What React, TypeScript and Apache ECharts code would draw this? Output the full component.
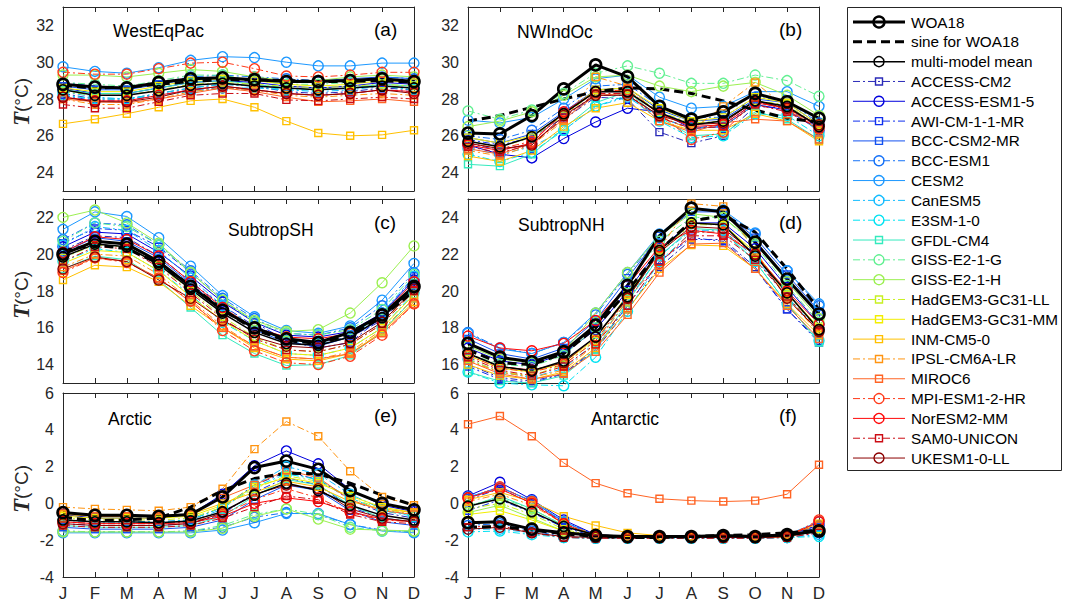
import React, { useEffect, useRef } from "react";
import * as echarts from "echarts";

const MONTHS = ["J", "F", "M", "A", "M", "J", "J", "A", "S", "O", "N", "D"];

const MODEL_NAMES = [
  "ACCESS-CM2", "ACCESS-ESM1-5", "AWI-CM-1-1-MR", "BCC-CSM2-MR", "BCC-ESM1", "CESM2",
  "CanESM5", "E3SM-1-0", "GFDL-CM4", "GISS-E2-1-G", "GISS-E2-1-H", "HadGEM3-GC31-LL",
  "HadGEM3-GC31-MM", "INM-CM5-0", "IPSL-CM6A-LR", "MIROC6", "MPI-ESM1-2-HR", "NorESM2-MM",
  "SAM0-UNICON", "UKESM1-0-LL",
];
const MODEL_COLORS = [
  "#2a2ab8", "#0000dd", "#1030ee", "#1452f0", "#1672f8", "#1c98ff", "#12bcff", "#00e2f2",
  "#34eabe", "#62f092", "#9cf052", "#c8f020", "#f2ee00", "#ffc000", "#ff9410", "#ff6424",
  "#ff3a1a", "#ff0808", "#cc0c14", "#8c0000",
];
const MODEL_DASHED = [true, false, true, false, true, false, true, true, false, true, false, true, false, false, true, false, true, false, true, false];
const MODEL_SQUARE = [true, false, true, true, false, false, false, false, true, false, false, true, true, true, true, true, false, false, true, false];

const PANEL_NAMES = ["WestEqPac", "NWIndOc", "SubtropSH", "SubtropNH", "Arctic", "Antarctic"];
const PANEL_TAGS = ["(a)", "(b)", "(c)", "(d)", "(e)", "(f)"];
const Y_MIN = [23, 23, 13, 15, -4, -4];
const Y_MAX = [33, 33, 23, 25, 6, 6];
const Y_TICKS = [
  [24, 26, 28, 30, 32],
  [24, 26, 28, 30, 32],
  [14, 16, 18, 20, 22],
  [16, 18, 20, 22, 24],
  [-4, -2, 0, 2, 4, 6],
  [-4, -2, 0, 2, 4, 6],
];

// ---------- (a) WestEqPac ----------
const WESTEQPAC_MODELS = [
  [28.3, 28.0, 28.0, 28.3, 28.6, 28.8, 28.7, 28.4, 28.3, 28.4, 28.6, 28.5],
  [28.6, 28.3, 28.3, 28.6, 28.9, 29.0, 28.9, 28.7, 28.6, 28.7, 28.9, 28.8],
  [28.2, 27.9, 27.9, 28.2, 28.5, 28.6, 28.5, 28.3, 28.2, 28.3, 28.5, 28.4],
  [28.7, 28.5, 28.5, 28.8, 29.1, 29.1, 29.0, 29.0, 29.0, 29.1, 29.2, 29.1],
  [28.9, 28.7, 28.6, 28.9, 29.2, 29.3, 29.2, 29.1, 29.0, 29.0, 29.2, 29.1],
  [29.75, 29.5, 29.4, 29.7, 30.1, 30.3, 30.25, 30.0, 29.8, 29.8, 29.95, 29.95],
  [28.4, 28.1, 28.0, 28.2, 28.4, 28.6, 28.6, 28.5, 28.4, 28.5, 28.7, 28.6],
  [28.2, 28.0, 28.0, 28.3, 28.6, 28.8, 28.7, 28.5, 28.5, 28.6, 28.7, 28.5],
  [28.5, 28.3, 28.3, 28.6, 28.9, 29.0, 28.8, 28.6, 28.5, 28.6, 28.8, 28.7],
  [28.9, 28.8, 28.7, 29.0, 29.3, 29.3, 29.0, 28.8, 28.8, 28.9, 29.1, 29.0],
  [29.3, 29.3, 29.2, 29.4, 29.6, 29.5, 29.2, 29.0, 29.0, 29.2, 29.3, 29.2],
  [28.4, 28.2, 28.2, 28.5, 28.8, 28.9, 28.8, 28.7, 28.6, 28.7, 28.8, 28.7],
  [28.6, 28.4, 28.4, 28.7, 29.0, 29.1, 29.0, 28.8, 28.7, 28.8, 29.0, 28.9],
  [26.65, 26.9, 27.2, 27.55, 27.9, 28.0, 27.55, 26.8, 26.15, 26.0, 26.05, 26.3],
  [28.0, 27.7, 27.7, 28.0, 28.4, 28.6, 28.5, 28.2, 28.1, 28.2, 28.3, 28.2],
  [28.0, 27.85, 27.8, 28.0, 28.3, 28.6, 28.4, 28.1, 27.85, 27.9, 28.0, 27.85],
  [29.45, 29.35, 29.35, 29.65, 29.95, 30.0, 29.65, 29.25, 29.2, 29.3, 29.45, 29.45],
  [28.1, 27.9, 27.9, 28.2, 28.5, 28.7, 28.5, 28.3, 28.2, 28.3, 28.5, 28.4],
  [27.7, 27.5, 27.5, 27.85, 28.2, 28.3, 28.3, 27.95, 27.9, 28.0, 28.1, 28.0],
  [28.1, 27.85, 27.85, 28.1, 28.5, 28.7, 28.5, 28.3, 28.2, 28.3, 28.5, 28.3],
];
const WESTEQPAC_WOA = [28.8, 28.65, 28.6, 28.9, 29.1, 29.15, 29.05, 28.95, 28.95, 29.0, 29.1, 28.95];
const WESTEQPAC_SINE = [28.75, 28.6, 28.65, 28.8, 28.95, 29.05, 29.05, 29.0, 28.95, 28.95, 29.0, 28.9];
const WESTEQPAC_MEAN = [28.5, 28.2, 28.2, 28.45, 28.75, 28.85, 28.7, 28.6, 28.5, 28.6, 28.7, 28.6];

// ---------- (b) NWIndOc ----------
const NWINDOC_MODELS = [
  [25.6, 25.2, 25.6, 26.9, 28.1, 28.0, 26.2, 25.6, 26.0, 27.6, 27.5, 26.3],
  [25.5, 25.0, 24.8, 25.85, 26.75, 27.5, 27.3, 26.4, 26.5, 27.7, 27.4, 26.3],
  [25.8, 25.5, 25.9, 27.0, 28.2, 28.2, 27.0, 26.4, 26.6, 27.8, 27.6, 26.4],
  [25.9, 25.6, 26.1, 27.3, 28.5, 28.6, 27.4, 26.8, 26.9, 28.0, 27.8, 26.6],
  [26.0, 25.8, 26.3, 27.5, 28.7, 28.8, 27.6, 27.0, 27.0, 28.1, 27.9, 26.7],
  [26.85, 26.7, 27.0, 28.0, 29.1, 29.3, 28.1, 27.5, 27.6, 28.4, 28.4, 27.6],
  [25.3, 25.0, 25.4, 26.3, 27.6, 28.1, 27.0, 26.4, 26.5, 27.7, 27.6, 26.2],
  [25.0, 24.6, 25.1, 26.3, 27.6, 28.2, 26.8, 25.9, 26.0, 27.2, 27.1, 26.0],
  [24.45, 24.35, 25.0, 26.4, 27.8, 28.4, 27.0, 26.0, 26.1, 27.3, 26.9, 25.8],
  [27.35, 26.9, 27.4, 28.3, 29.4, 29.8, 29.4, 28.85, 28.85, 29.3, 29.0, 28.15],
  [26.5, 26.8, 27.3, 28.2, 29.2, 29.3, 28.7, 28.4, 28.7, 28.9, 28.2, 27.1],
  [25.7, 25.4, 25.9, 27.1, 28.4, 28.5, 27.3, 26.7, 26.8, 27.9, 27.7, 26.5],
  [25.9, 25.6, 26.0, 27.2, 28.5, 28.6, 27.5, 26.8, 27.0, 28.1, 27.8, 26.6],
  [24.9, 24.6, 25.2, 26.5, 27.5, 27.8, 26.8, 26.3, 26.3, 27.2, 26.8, 25.7],
  [25.2, 24.9, 25.5, 26.8, 29.2, 28.7, 27.1, 26.3, 27.6, 28.9, 27.5, 26.3],
  [25.3, 25.0, 25.6, 26.9, 28.2, 28.3, 26.8, 26.2, 26.7, 26.9, 26.8, 25.8],
  [25.6, 25.3, 25.7, 27.2, 28.4, 28.5, 27.2, 25.8, 26.2, 27.9, 27.4, 26.4],
  [25.5, 25.2, 25.6, 27.3, 28.4, 28.4, 27.2, 26.5, 26.6, 27.8, 27.5, 26.5],
  [25.4, 25.1, 25.5, 27.0, 28.3, 28.3, 27.0, 26.4, 26.5, 27.7, 27.3, 26.4],
  [25.6, 25.3, 25.5, 27.1, 28.2, 28.2, 27.1, 26.6, 26.7, 27.9, 27.5, 26.6],
];
const NWINDOC_WOA = [26.15, 26.1, 27.1, 28.55, 29.85, 29.2, 27.6, 26.9, 27.3, 28.3, 27.85, 26.95];
const NWINDOC_SINE = [26.8, 27.1, 27.55, 28.0, 28.4, 28.6, 28.55, 28.3, 27.9, 27.4, 26.95, 26.75];
const NWINDOC_MEAN = [25.7, 25.4, 25.95, 27.2, 28.4, 28.4, 27.25, 26.6, 26.8, 27.9, 27.6, 26.5];

// ---------- (c) SubtropSH ----------
const SUBTROPSH_MODELS = [
  [20.2, 21.0, 20.9, 19.9, 18.5, 17.2, 16.1, 15.4, 15.2, 15.5, 16.4, 18.2],
  [20.4, 21.2, 21.1, 20.1, 18.8, 17.4, 16.3, 15.6, 15.5, 15.8, 16.8, 18.6],
  [20.6, 21.4, 21.3, 20.4, 19.0, 17.5, 16.3, 15.3, 14.9, 15.2, 16.6, 18.8],
  [20.1, 20.9, 20.7, 19.8, 18.4, 17.0, 15.9, 15.2, 15.0, 15.5, 16.5, 18.3],
  [20.8, 21.7, 21.6, 20.5, 19.1, 17.6, 16.5, 15.7, 15.6, 16.0, 17.2, 19.0],
  [21.35, 22.3, 22.05, 20.9, 19.35, 17.75, 16.6, 15.85, 15.7, 16.1, 17.5, 19.5],
  [20.5, 21.5, 21.3, 20.2, 18.7, 17.2, 16.0, 15.3, 15.1, 15.5, 16.8, 18.8],
  [19.6, 20.3, 20.1, 19.1, 17.8, 16.3, 15.3, 14.6, 14.5, 14.9, 16.0, 17.9],
  [19.2, 19.9, 19.7, 18.6, 17.1, 15.6, 14.6, 13.95, 14.0, 14.5, 15.8, 17.6],
  [20.7, 21.7, 21.5, 20.5, 19.0, 17.5, 16.3, 15.7, 15.6, 15.9, 17.0, 18.9],
  [22.0, 22.4, 21.7, 20.6, 19.0, 17.5, 16.4, 15.8, 15.9, 16.8, 18.45, 20.45],
  [19.8, 20.5, 20.4, 19.4, 18.0, 16.6, 15.5, 14.8, 14.7, 15.1, 16.2, 18.0],
  [19.5, 20.2, 20.1, 19.1, 17.7, 16.4, 15.3, 14.6, 14.5, 14.9, 16.0, 17.8],
  [18.6, 19.4, 19.3, 18.5, 17.2, 16.0, 14.9, 14.3, 14.2, 14.6, 15.8, 17.4],
  [19.3, 20.0, 19.9, 18.9, 17.5, 16.1, 15.0, 14.4, 14.3, 14.7, 15.9, 17.6],
  [19.1, 19.8, 19.6, 18.7, 17.4, 16.0, 15.0, 14.4, 14.3, 14.6, 15.7, 17.3],
  [19.0, 19.8, 19.55, 18.7, 17.45, 15.85, 14.75, 14.1, 14.0, 14.45, 15.6, 17.3],
  [20.1, 20.95, 20.8, 19.9, 18.5, 17.1, 16.0, 15.5, 15.4, 15.7, 16.7, 18.5],
  [19.6, 20.4, 20.3, 19.3, 17.9, 16.5, 15.4, 14.8, 14.7, 15.1, 16.2, 18.0],
  [19.2, 19.85, 19.6, 18.6, 17.6, 16.4, 15.5, 15.0, 14.9, 15.2, 16.3, 18.1],
];
const SUBTROPSH_WOA = [20.0, 20.7, 20.55, 19.6, 18.25, 16.95, 16.0, 15.4, 15.2, 15.75, 16.7, 18.25];
const SUBTROPSH_SINE = [20.2, 20.5, 20.3, 19.5, 18.3, 17.0, 15.9, 15.3, 15.15, 15.6, 16.6, 18.0];
const SUBTROPSH_MEAN = [19.85, 20.55, 20.4, 19.45, 18.1, 16.8, 15.75, 15.15, 15.05, 15.5, 16.55, 18.2];

// ---------- (d) SubtropNH ----------
const SUBTROPNH_MODELS = [
  [16.0, 15.3, 15.1, 15.5, 16.8, 19.0, 21.3, 22.8, 22.8, 21.3, 19.0, 17.3],
  [16.9, 16.2, 16.0, 16.6, 17.9, 20.0, 22.3, 23.7, 23.7, 22.3, 20.2, 18.2],
  [15.9, 15.2, 15.0, 15.5, 16.9, 19.2, 21.6, 22.9, 22.7, 21.2, 19.0, 17.2],
  [17.4, 16.6, 16.3, 16.9, 18.4, 20.7, 23.0, 24.3, 24.3, 22.9, 20.9, 18.9],
  [17.75, 16.9, 16.6, 17.2, 18.7, 20.9, 23.0, 24.5, 24.3, 23.1, 21.1, 19.2],
  [17.7, 16.85, 16.6, 17.2, 18.8, 21.0, 23.1, 24.5, 24.4, 23.15, 21.1, 19.3],
  [16.3, 15.6, 15.3, 15.8, 17.2, 19.5, 21.9, 23.3, 23.3, 21.8, 19.7, 17.8],
  [15.6, 15.0, 14.9, 14.85, 16.4, 18.9, 21.6, 23.2, 23.2, 21.6, 19.3, 17.3],
  [15.6, 15.1, 15.0, 15.4, 16.8, 19.4, 21.9, 23.4, 23.3, 21.6, 19.3, 17.2],
  [16.6, 16.0, 15.9, 16.5, 18.0, 20.4, 22.7, 24.0, 24.0, 22.5, 20.3, 18.3],
  [17.0, 16.3, 16.1, 16.7, 18.8, 21.0, 23.0, 24.2, 24.0, 22.6, 20.5, 18.5],
  [16.3, 15.6, 15.4, 16.0, 17.3, 19.6, 22.1, 23.6, 23.6, 22.0, 19.8, 17.9],
  [16.5, 15.8, 15.6, 16.1, 17.4, 19.8, 22.2, 23.7, 23.6, 22.1, 19.9, 18.0],
  [16.0, 15.4, 15.2, 15.6, 16.9, 19.0, 21.2, 22.5, 22.45, 21.2, 19.3, 17.6],
  [16.2, 15.6, 15.3, 15.7, 17.1, 19.5, 22.3, 24.75, 24.6, 22.2, 19.6, 17.7],
  [16.2, 15.5, 15.2, 15.5, 16.7, 18.7, 21.0, 22.55, 22.6, 21.2, 19.2, 17.4],
  [16.5, 15.8, 15.6, 16.0, 17.3, 19.6, 21.5, 23.2, 23.2, 22.0, 19.9, 17.9],
  [17.55, 16.9, 16.75, 17.15, 18.4, 20.3, 22.4, 23.3, 23.1, 22.0, 20.0, 18.2],
  [16.4, 15.7, 15.4, 15.9, 17.1, 19.2, 21.6, 23.0, 23.0, 21.7, 19.7, 17.8],
  [16.6, 15.9, 15.7, 16.1, 17.5, 19.6, 22.1, 23.5, 23.4, 22.0, 19.6, 17.8],
];
const SUBTROPNH_WOA = [17.15, 16.4, 16.15, 16.7, 18.15, 20.3, 23.0, 24.5, 24.3, 22.65, 20.65, 18.75];
const SUBTROPNH_SINE = [16.8, 16.1, 16.0, 16.6, 18.0, 20.0, 22.2, 23.8, 24.1, 23.2, 21.2, 19.0];
const SUBTROPNH_MEAN = [16.6, 15.9, 15.65, 16.2, 17.5, 19.7, 22.2, 23.7, 23.6, 21.9, 19.9, 17.9];

// ---------- (e) Arctic ----------
const ARCTIC_MODELS = [
  [-0.9, -1.0, -1.0, -1.0, -0.9, -0.2, 1.0, 1.7, 1.3, 0.2, -0.5, -0.8],
  [-0.6, -0.8, -0.8, -0.8, -0.6, 0.5, 2.05, 2.85, 2.15, 0.75, -0.1, -0.45],
  [-1.1, -1.2, -1.2, -1.2, -1.1, -0.6, 0.6, 1.4, 1.0, -0.2, -0.8, -1.0],
  [-1.3, -1.4, -1.4, -1.4, -1.3, -0.9, 0.2, 1.0, 0.7, -0.4, -1.0, -1.2],
  [-1.5, -1.55, -1.55, -1.55, -1.5, -1.3, -0.75, -0.5, -0.6, -1.15, -1.45, -1.55],
  [-1.6, -1.6, -1.6, -1.6, -1.6, -1.45, -1.05, -0.55, -0.55, -1.15, -1.5, -1.6],
  [-1.0, -1.1, -1.1, -1.1, -1.0, -0.3, 1.0, 2.0, 1.6, 0.5, -0.3, -0.7],
  [-0.9, -1.0, -1.0, -1.0, -0.9, -0.2, 0.9, 1.6, 1.3, 0.3, -0.4, -0.7],
  [-1.2, -1.3, -1.3, -1.3, -1.2, -0.7, 0.4, 1.3, 1.0, -0.1, -0.8, -1.0],
  [-1.5, -1.55, -1.55, -1.55, -1.5, -1.2, -0.6, -0.3, -0.6, -1.3, -1.5, -1.5],
  [-1.55, -1.55, -1.55, -1.55, -1.55, -1.35, -0.7, -0.3, -0.85, -1.4, -1.45, -1.5],
  [-0.8, -0.9, -0.9, -0.9, -0.8, -0.2, 0.8, 1.5, 1.2, 0.3, -0.3, -0.6],
  [-0.7, -0.8, -0.8, -0.8, -0.7, -0.1, 0.9, 1.4, 1.1, 0.4, -0.2, -0.5],
  [-0.6, -0.7, -0.7, -0.7, -0.6, 0.0, 0.6, 1.2, 0.9, 0.1, -0.3, -0.5],
  [-0.2, -0.3, -0.35, -0.4, -0.2, 0.8, 2.95, 4.45, 3.65, 1.75, 0.35, -0.1],
  [-0.5, -0.7, -0.7, -0.7, -0.6, 0.3, 1.0, 1.8, 1.4, 0.2, -0.4, -0.6],
  [-1.0, -1.1, -1.1, -1.1, -1.0, -0.6, 0.2, 0.8, 0.3, -0.5, -0.9, -1.0],
  [-1.0, -1.1, -1.1, -1.1, -1.05, -0.7, 0.0, 0.3, 0.1, -0.45, -0.85, -1.0],
  [-1.2, -1.3, -1.3, -1.3, -1.2, -0.8, -0.2, 0.4, 0.2, -0.6, -1.0, -1.1],
  [-1.1, -1.2, -1.2, -1.2, -1.1, -0.5, 0.5, 1.0, 0.8, -0.3, -0.8, -1.0],
];
const ARCTIC_WOA = [-0.5, -0.65, -0.65, -0.7, -0.6, 0.35, 1.95, 2.3, 1.85, 0.7, 0.0, -0.35];
const ARCTIC_SINE = [-0.75, -0.95, -0.9, -0.8, -0.2, 0.7, 1.35, 1.65, 1.6, 1.1, 0.45, -0.1];
const ARCTIC_MEAN = [-0.9, -1.0, -1.0, -1.05, -0.95, -0.45, 0.45, 1.1, 0.7, -0.1, -0.65, -0.9];

// ---------- (f) Antarctic ----------
const ANTARCTIC_MODELS = [
  [0.2, 0.8, 0.0, -1.0, -1.7, -1.8, -1.8, -1.8, -1.8, -1.8, -1.7, -1.2],
  [0.4, 1.15, 0.2, -0.9, -1.7, -1.8, -1.8, -1.8, -1.8, -1.8, -1.7, -1.2],
  [-0.4, 0.2, -0.5, -1.3, -1.8, -1.85, -1.85, -1.85, -1.85, -1.85, -1.8, -1.4],
  [0.3, 0.9, 0.1, -1.0, -1.75, -1.85, -1.85, -1.85, -1.85, -1.85, -1.75, -1.3],
  [-1.2, -1.1, -1.5, -1.8, -1.9, -1.9, -1.9, -1.9, -1.9, -1.9, -1.85, -1.6],
  [0.35, 0.85, 0.15, -1.0, -1.75, -1.8, -1.8, -1.8, -1.8, -1.8, -1.7, -1.0],
  [-1.4, -1.4, -1.6, -1.85, -1.9, -1.9, -1.9, -1.9, -1.9, -1.9, -1.85, -1.7],
  [-1.55, -1.5, -1.7, -1.85, -1.9, -1.9, -1.9, -1.9, -1.9, -1.9, -1.85, -1.8],
  [-0.2, 0.4, -0.3, -1.2, -1.75, -1.85, -1.85, -1.85, -1.85, -1.85, -1.8, -1.4],
  [-0.1, 0.3, -0.3, -1.2, -1.75, -1.85, -1.85, -1.85, -1.85, -1.85, -1.75, -1.5],
  [-0.5, -0.1, -0.8, -1.5, -1.8, -1.85, -1.85, -1.85, -1.85, -1.85, -1.8, -1.5],
  [-0.3, 0.0, -0.6, -1.4, -1.8, -1.85, -1.85, -1.85, -1.85, -1.85, -1.8, -1.4],
  [-0.6, -0.4, -0.9, -1.5, -1.8, -1.85, -1.85, -1.85, -1.85, -1.85, -1.8, -1.4],
  [0.2, 0.6, 0.1, -0.7, -1.2, -1.6, -1.75, -1.8, -1.8, -1.8, -1.7, -1.1],
  [0.1, 0.5, -0.1, -1.1, -1.7, -1.8, -1.8, -1.8, -1.8, -1.8, -1.7, -1.2],
  [4.3, 4.75, 3.65, 2.2, 1.1, 0.55, 0.25, 0.15, 0.1, 0.15, 0.5, 2.1],
  [0.3, 0.9, 0.1, -1.1, -1.8, -1.85, -1.85, -1.85, -1.85, -1.85, -1.8, -0.9],
  [0.3, 0.8, 0.0, -1.1, -1.8, -1.85, -1.85, -1.85, -1.85, -1.85, -1.8, -1.0],
  [-1.3, -1.2, -1.6, -1.85, -1.9, -1.9, -1.9, -1.9, -1.9, -1.9, -1.85, -1.6],
  [-1.4, -1.3, -1.6, -1.8, -1.85, -1.85, -1.85, -1.85, -1.85, -1.85, -1.8, -1.5],
];
const ANTARCTIC_WOA = [-1.05, -1.0, -1.4, -1.6, -1.75, -1.8, -1.8, -1.8, -1.75, -1.8, -1.7, -1.5];
const ANTARCTIC_SINE = [-1.3, -1.25, -1.45, -1.65, -1.8, -1.85, -1.85, -1.8, -1.75, -1.7, -1.6, -1.45];
const ANTARCTIC_MEAN = [-0.15, 0.25, -0.45, -1.25, -1.7, -1.8, -1.8, -1.8, -1.8, -1.8, -1.75, -1.45];

const PANEL_MODELS = [WESTEQPAC_MODELS, NWINDOC_MODELS, SUBTROPSH_MODELS, SUBTROPNH_MODELS, ARCTIC_MODELS, ANTARCTIC_MODELS];
const PANEL_WOA = [WESTEQPAC_WOA, NWINDOC_WOA, SUBTROPSH_WOA, SUBTROPNH_WOA, ARCTIC_WOA, ANTARCTIC_WOA];
const PANEL_SINE = [WESTEQPAC_SINE, NWINDOC_SINE, SUBTROPSH_SINE, SUBTROPNH_SINE, ARCTIC_SINE, ANTARCTIC_SINE];
const PANEL_MEAN = [WESTEQPAC_MEAN, NWINDOC_MEAN, SUBTROPSH_MEAN, SUBTROPNH_MEAN, ARCTIC_MEAN, ANTARCTIC_MEAN];

const FONT = "'Liberation Sans', Arial, Helvetica, sans-serif";
const AXIS_COLOR = "#262626";
const DASH_DOT = [7, 3, 2, 3];
const SINE_DASH = [9, 5];

function buildOption() {
  const gridLeft = [63, 468, 63, 468, 63, 468];
  const gridTop = [7, 7, 199, 199, 393, 393];
  const W = 351;
  const H = 184;

  const grids: any[] = [];
  const xAxes: any[] = [];
  const yAxes: any[] = [];
  const series: any[] = [];
  const graphics: any[] = [];

  for (let i = 0; i < 6; i++) {
    grids.push({ left: gridLeft[i], top: gridTop[i], width: W, height: H, containLabel: false });
    const tickStyle = { inside: true, length: 5, lineStyle: { color: AXIS_COLOR, width: 1 } };
    const lineStyle = { show: true, onZero: false, lineStyle: { color: AXIS_COLOR, width: 1 } };
    xAxes.push({
      gridIndex: i, type: "category", data: MONTHS, boundaryGap: false, position: "bottom",
      axisLine: lineStyle, axisTick: tickStyle, splitLine: { show: false },
      axisLabel: { show: i >= 4, fontSize: 17, color: AXIS_COLOR, margin: 8, fontFamily: FONT, interval: 0 },
    });
    xAxes.push({
      gridIndex: i, type: "category", data: MONTHS, boundaryGap: false, position: "top",
      axisLine: lineStyle, axisTick: tickStyle, splitLine: { show: false }, axisLabel: { show: false },
    });
    yAxes.push({
      gridIndex: i, type: "value", min: Y_MIN[i], max: Y_MAX[i], position: "left",
      axisLine: lineStyle, splitLine: { show: false },
      axisTick: { ...tickStyle, customValues: Y_TICKS[i] },
      axisLabel: { customValues: Y_TICKS[i], fontSize: 16, color: AXIS_COLOR, margin: 9, fontFamily: FONT },
    });
    yAxes.push({
      gridIndex: i, type: "value", min: Y_MIN[i], max: Y_MAX[i], position: "right",
      axisLine: lineStyle, splitLine: { show: false },
      axisTick: { ...tickStyle, customValues: Y_TICKS[i] },
      axisLabel: { show: false },
    });

    const models = PANEL_MODELS[i];
    for (let k = 0; k < MODEL_NAMES.length; k++) {
      const c = MODEL_COLORS[k];
      series.push({
        type: "line", name: MODEL_NAMES[k], xAxisIndex: 2 * i, yAxisIndex: 2 * i,
        data: models[k], clip: false, silent: true,
        symbol: MODEL_SQUARE[k] ? "rect" : "circle",
        symbolSize: MODEL_SQUARE[k] ? 7 : 10,
        lineStyle: { color: c, width: 1, type: MODEL_DASHED[k] ? DASH_DOT : "solid" },
        itemStyle: { color: "rgba(0,0,0,0)", borderColor: c, borderWidth: 1.4 },
      });
    }
    series.push({
      type: "line", name: "sine for WOA18", xAxisIndex: 2 * i, yAxisIndex: 2 * i,
      data: PANEL_SINE[i], clip: false, silent: true, symbol: "none",
      lineStyle: { color: "#000", width: 3, type: SINE_DASH },
    });
    series.push({
      type: "line", name: "multi-model mean", xAxisIndex: 2 * i, yAxisIndex: 2 * i,
      data: PANEL_MEAN[i], clip: false, silent: true, symbol: "circle", symbolSize: 10,
      lineStyle: { color: "#000", width: 1.5 },
      itemStyle: { color: "rgba(0,0,0,0)", borderColor: "#000", borderWidth: 1.6 },
    });
    series.push({
      type: "line", name: "WOA18", xAxisIndex: 2 * i, yAxisIndex: 2 * i,
      data: PANEL_WOA[i], clip: false, silent: true, symbol: "circle", symbolSize: 11,
      lineStyle: { color: "#000", width: 3 },
      itemStyle: { color: "rgba(0,0,0,0)", borderColor: "#000", borderWidth: 2.6 },
    });
  }

  // panel titles
  const titleX = [113, 517, 228, 518, 108, 591];
  const titleY = [31, 32, 230, 225, 419, 419];
  const tagX = [374, 779, 374, 779, 374, 779];
  const tagY = [29, 29, 222, 222, 415, 415];
  for (let i = 0; i < 6; i++) {
    graphics.push({
      type: "text", x: titleX[i], y: titleY[i], silent: true,
      style: { text: PANEL_NAMES[i], fontSize: 17.5, fontFamily: FONT, fill: "#000", align: "left", verticalAlign: "middle" },
    });
    graphics.push({
      type: "text", x: tagX[i], y: tagY[i], silent: true,
      style: { text: PANEL_TAGS[i], fontSize: 19, fontFamily: FONT, fill: "#000", align: "left", verticalAlign: "middle" },
    });
  }
  // y axis names
  const nameY = [102, 295, 489];
  for (let r = 0; r < 3; r++) {
    graphics.push({
      type: "text", x: 21, y: nameY[r], rotation: Math.PI / 2, silent: true,
      style: {
        text: "{t|T}{u|(°C)}", align: "center", verticalAlign: "middle",
        rich: {
          t: { fontFamily: "'Liberation Serif', 'DejaVu Serif', serif", fontStyle: "italic", fontWeight: "bold", fontSize: 23, fill: "#262626" },
          u: { fontFamily: FONT, fontSize: 19, fill: "#262626" },
        },
      },
    });
  }

  // legend
  const legendItems: any[] = [
    { name: "WOA18", color: "#000", width: 3, dash: null, marker: "circle", mw: 2.4, r: 5.5 },
    { name: "sine for WOA18", color: "#000", width: 3, dash: SINE_DASH, marker: null, mw: 0, r: 0 },
    { name: "multi-model mean", color: "#000", width: 1.5, dash: null, marker: "circle", mw: 1.5, r: 5 },
  ];
  for (let k = 0; k < MODEL_NAMES.length; k++) {
    legendItems.push({
      name: MODEL_NAMES[k], color: MODEL_COLORS[k], width: 1, dash: MODEL_DASHED[k] ? DASH_DOT : null,
      marker: MODEL_SQUARE[k] ? "square" : "circle", mw: 1.4, r: MODEL_SQUARE[k] ? 3.5 : 5,
    });
  }
  graphics.push({
    type: "rect", silent: true, shape: { x: 847.5, y: 7.5, width: 214, height: 463 },
    style: { fill: "#fff", stroke: AXIS_COLOR, lineWidth: 1 }, z: 10,
  });
  legendItems.forEach((it, idx) => {
    const y = 22 + idx * 19.82;
    graphics.push({
      type: "line", silent: true, z: 11,
      shape: { x1: 853, y1: y, x2: 905, y2: y },
      style: { stroke: it.color, lineWidth: it.width, lineDash: it.dash || undefined },
    });
    if (it.marker === "circle") {
      graphics.push({
        type: "circle", silent: true, z: 12, shape: { cx: 879, cy: y, r: it.r },
        style: { fill: "none", stroke: it.color, lineWidth: it.mw },
      });
    } else if (it.marker === "square") {
      graphics.push({
        type: "rect", silent: true, z: 12, shape: { x: 879 - it.r, y: y - it.r, width: 2 * it.r, height: 2 * it.r },
        style: { fill: "none", stroke: it.color, lineWidth: it.mw },
      });
    }
    graphics.push({
      type: "text", silent: true, z: 12, x: 911, y: y,
      style: { text: it.name, fontSize: 15.3, fontFamily: FONT, fill: "#000", align: "left", verticalAlign: "middle" },
    });
  });

  return {
    animation: false,
    backgroundColor: "#fff",
    grid: grids,
    xAxis: xAxes,
    yAxis: yAxes,
    series,
    graphic: { elements: graphics },
  };
}

export default function App() {
  const ref = useRef<HTMLDivElement>(null);
  useEffect(() => {
    if (!ref.current) return;
    const chart = echarts.init(ref.current, undefined, { renderer: "svg" });
    chart.setOption(buildOption());
    return () => chart.dispose();
  }, []);
  return (
    <div
      ref={ref}
      style={{ position: "absolute", left: 0, top: 0, width: 1065, height: 606, background: "#fff" }}
    />
  );
}
